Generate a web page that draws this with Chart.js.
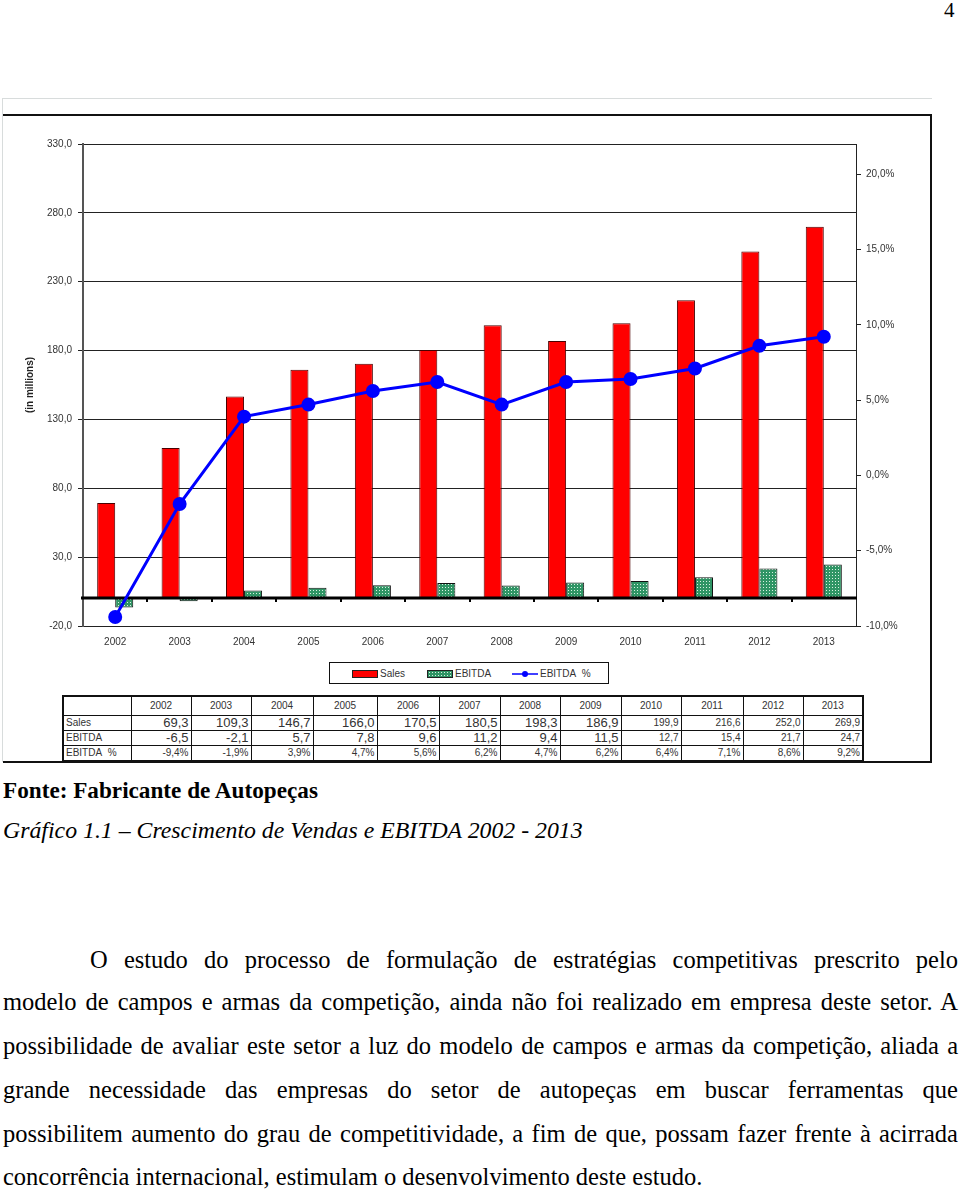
<!DOCTYPE html>
<html>
<head>
<meta charset="utf-8">
<script src="https://cdn.jsdelivr.net/npm/chart.js@4.4.1/dist/chart.umd.min.js"></script>
<style>
    body { margin: 0; background: #fff; }
    #page { position: relative; width: 960px; height: 1190px; overflow: hidden; font-family: 'Liberation Serif', 'Times New Roman', serif; }
    .abs { position: absolute; }
    #pagenum { left: 944px; top: -2px; font-size: 21px; }
    #shade { left: 2px; top: 98px; width: 930px; height: 664px; border-left: 1px solid #d8dcdc; border-top: 1px solid #d8dcdc; box-sizing: border-box; }
    #frame { left: 3px; top: 114px; width: 929px; height: 649px; border-top: 2px solid #111; border-right: 2px solid #111; border-bottom: 2px solid #111; box-sizing: border-box; }
    #chart { left: 0; top: 115px; }
    #legend { left: 329px; top: 662px; width: 280px; height: 22px; border: 1px solid #111; box-sizing: border-box; font-family: 'Liberation Sans', Arial, sans-serif; font-size: 10px; color: #333; }
    .leg { position: absolute; top: 5px; line-height: 11px; }
    .sw { display: inline-block; width: 24px; height: 6px; vertical-align: middle; margin-right: 2px; border: 1px solid #222; }
    #tbl { left: 62px; top: 695px; border-collapse: collapse; border: 2px solid #111; font-family: 'Liberation Sans', Arial, sans-serif; color: #333; table-layout: fixed; }
    #tbl td { border: 1px solid #111; padding: 0 2px; font-size: 10px; height: 14px; line-height: 12px; text-align: right; white-space: nowrap; overflow: hidden; }
    #tbl tr.hd td { height: 18px; text-align: center; }
    #tbl td.rh { text-align: left; }
    #tbl td.big { font-size: 13px; }
    #fonte { left: 3px; top: 777px; font-size: 23.2px; font-weight: bold; }
    #grafico { left: 3px; top: 817px; font-size: 23.8px; font-style: italic; }
    .ln { position: absolute; left: 3px; width: 955px; font-size: 24.5px; line-height: 28px; white-space: nowrap; text-align: justify; text-align-last: justify; }
    .ln.last { text-align-last: left; }
</style>
</head>
<body>
<div id="page">
    <div id="pagenum" class="abs">4</div>
    <div id="shade" class="abs"></div>
    <div id="frame" class="abs"></div>
    <canvas id="chart" class="abs" width="930" height="545"></canvas>
    <div id="legend" class="abs"></div>
    <table id="tbl" class="abs"></table>
    <div id="fonte" class="abs">Fonte: Fabricante de Autopeças</div>
    <div id="grafico" class="abs">Gráfico 1.1 – Crescimento de Vendas e EBITDA 2002 - 2013</div>
    <div id="texto"></div>
</div>
<script>
const years = ['2002', '2003', '2004', '2005', '2006', '2007', '2008', '2009', '2010', '2011', '2012', '2013'];
const sales = [69.3, 109.3, 146.7, 166.0, 170.5, 180.5, 198.3, 186.9, 199.9, 216.6, 252.0, 269.9];
const ebitda = [-6.5, -2.1, 5.7, 7.8, 9.6, 11.2, 9.4, 11.5, 12.7, 15.4, 21.7, 24.7];
const ebitdaPct = [-9.4, -1.9, 3.9, 4.7, 5.6, 6.2, 4.7, 6.2, 6.4, 7.1, 8.6, 9.2];
const salesTicks = [-20, 30, 80, 130, 180, 230, 280, 330];
const pctTicks = [-10, -5, 0, 5, 10, 15, 20];
const seriesNames = ['Sales', 'EBITDA', 'EBITDA  %'];

const paragraph = [
    'O estudo do processo de formulação de estratégias competitivas prescrito pelo',
    'modelo de campos e armas da competição, ainda não foi realizado em empresa deste setor. A',
    'possibilidade de avaliar este setor a luz do modelo de campos e armas da competição, aliada a',
    'grande necessidade das empresas do setor de autopeças em buscar ferramentas que',
    'possibilitem aumento do grau de competitividade, a fim de que, possam fazer frente à acirrada',
    'concorrência internacional, estimulam o desenvolvimento deste estudo.'
];

const fmt = v => v.toFixed(1).replace('.', ',');
const fmtPct = v => fmt(v) + '%';

const AXIS_FONT = { family: "'Liberation Sans', Arial, sans-serif", size: 10 };
const RED = '#ff0000';
const BLUE = '#0000ff';

// dotted green fill used by the EBITDA bars
function dottedGreen() {
    const c = document.createElement('canvas');
    c.width = 3; c.height = 3;
    const g = c.getContext('2d');
    g.fillStyle = '#2f9565';
    g.fillRect(0, 0, 3, 3);
    g.fillStyle = '#d9f0e2';
    g.fillRect(1, 1, 1, 1);
    return g.createPattern(c, 'repeat');
}
const greenFill = dottedGreen();

// thick zero line + small category marks, drawn just before the % line
const zeroLine = {
    id: 'zeroLine',
    beforeDatasetDraw(chart, args) {
        if (args.meta.type !== 'line') return;
        const { ctx, chartArea } = chart;
        const x = chart.scales.x;
        const y0 = Math.round(chart.scales.y.getPixelForValue(0));
        ctx.save();
        ctx.strokeStyle = '#000';
        ctx.lineWidth = 3;
        ctx.beginPath();
        ctx.moveTo(chartArea.left - 2, y0);
        ctx.lineTo(chartArea.right + 1, y0);
        ctx.stroke();
        ctx.lineWidth = 2;
        const step = x.getPixelForValue(1) - x.getPixelForValue(0);
        for (let i = 1; i < years.length; i++) {
            const bx = Math.round(x.getPixelForValue(i) - step / 2);
            ctx.beginPath();
            ctx.moveTo(bx, y0);
            ctx.lineTo(bx, y0 + 4);
            ctx.stroke();
        }
        ctx.restore();
    }
};

const chart = new Chart(document.getElementById('chart').getContext('2d'), {
    type: 'bar',
    data: {
        labels: years,
        datasets: [
            {
                type: 'line',
                label: seriesNames[2],
                data: ebitdaPct,
                yAxisID: 'y1',
                borderColor: BLUE,
                backgroundColor: BLUE,
                borderWidth: 3,
                pointRadius: 5.5,
                pointBackgroundColor: BLUE,
                pointBorderColor: BLUE,
                tension: 0,
                order: 0
            },
            {
                label: seriesNames[0],
                data: sales,
                yAxisID: 'y',
                backgroundColor: RED,
                borderColor: '#4a0000',
                borderWidth: 1,
                categoryPercentage: 0.56,
                barPercentage: 1,
                order: 1
            },
            {
                label: seriesNames[1],
                data: ebitda,
                yAxisID: 'y',
                backgroundColor: greenFill,
                borderColor: '#111',
                borderWidth: 1,
                categoryPercentage: 0.56,
                barPercentage: 1,
                order: 1
            }
        ]
    },
    options: {
        responsive: false,
        animation: false,
        layout: { padding: { top: 29, left: 0, right: 0, bottom: 0 } },
        plugins: {
            legend: { display: false },
            tooltip: { enabled: false }
        },
        scales: {
            x: {
                offset: true,
                grid: { display: false, drawTicks: false },
                border: { display: false },
                ticks: { color: '#333', font: AXIS_FONT, padding: 10, maxRotation: 0 },
                afterFit: s => { s.height = 34; }
            },
            y: {
                position: 'left',
                min: -20,
                max: 330,
                afterBuildTicks: s => { s.ticks = salesTicks.map(v => ({ value: v })); },
                ticks: { color: '#333', font: AXIS_FONT, padding: 6, callback: v => fmt(v) },
                grid: { color: '#222', lineWidth: 1, tickLength: 5 },
                border: { color: '#555', width: 2 },
                title: {
                    display: true,
                    text: '(in millions)',
                    color: '#222',
                    font: { family: "'Liberation Sans', Arial, sans-serif", size: 10, weight: 'bold' },
                    padding: { top: 24, bottom: 0 }
                },
                afterFit: s => { s.width = 83; }
            },
            y1: {
                position: 'right',
                min: -10,
                max: 22,
                afterBuildTicks: s => { s.ticks = pctTicks.map(v => ({ value: v })); },
                ticks: { color: '#333', font: AXIS_FONT, padding: 5, callback: v => fmtPct(v) },
                grid: { drawOnChartArea: false, color: '#222', tickLength: 5 },
                border: { color: '#222', width: 1 },
                afterFit: s => { s.width = 74; }
            }
        }
    },
    plugins: [zeroLine]
});

// legend built from the datasets
const legend = document.getElementById('legend');
const legendX = { 'Sales': 22, 'EBITDA': 97, 'EBITDA  %': 182 };
[chart.data.datasets[1], chart.data.datasets[2], chart.data.datasets[0]].forEach(ds => {
    const item = document.createElement('div');
    item.className = 'leg';
    item.style.left = legendX[ds.label] + 'px';
    if (ds.type === 'line') {
        item.innerHTML = '<svg width="26" height="8" style="vertical-align:middle;margin-right:2px">'
            + '<line x1="0" y1="4" x2="26" y2="4" stroke="' + BLUE + '" stroke-width="1.5"/>'
            + '<circle cx="13" cy="4" r="3" fill="' + BLUE + '"/></svg>' + ds.label.replace(/ /g, '&nbsp;');
    } else {
        const bg = ds.label === 'Sales' ? RED : '#2f9565';
        const dots = ds.label === 'Sales' ? '' : ';background-image:radial-gradient(#d9f0e2 0.6px, transparent 0.8px);background-size:3px 3px';
        item.innerHTML = '<span class="sw" style="background-color:' + bg + dots + '"></span>' + ds.label;
    }
    legend.appendChild(item);
});

// data table under the chart
const colWidths = [68, 60, 60, 62, 64, 62, 61, 60, 61, 60, 62, 60, 60];
const tbl = document.getElementById('tbl');
let html = '<colgroup>' + colWidths.map(w => '<col style="width:' + w + 'px">').join('') + '</colgroup>';
html += '<tr class="hd"><td></td>' + years.map(y => '<td>' + y + '</td>').join('') + '</tr>';
const rows = [
    [seriesNames[0], sales.map(fmt), true],
    [seriesNames[1], ebitda.map(fmt), true],
    [seriesNames[2], ebitdaPct.map(fmtPct), false]
];
rows.forEach(([name, vals, scanBig]) => {
    html += '<tr><td class="rh">' + name.replace(/ /g, '&nbsp;') + '</td>'
        + vals.map((v, i) => '<td' + (scanBig && i < 8 ? ' class="big"' : '') + '>' + v + '</td>').join('') + '</tr>';
});
tbl.innerHTML = html;

// body text
const lineTops = [946, 988, 1032, 1076, 1120, 1163];
const texto = document.getElementById('texto');
paragraph.forEach((t, i) => {
    const d = document.createElement('div');
    d.className = 'ln' + (i === paragraph.length - 1 ? ' last' : '');
    d.style.top = lineTops[i] + 'px';
    if (i === 0) { d.style.left = '90px'; d.style.width = '868px'; }
    d.textContent = t;
    texto.appendChild(d);
});
</script>
</body>
</html>
